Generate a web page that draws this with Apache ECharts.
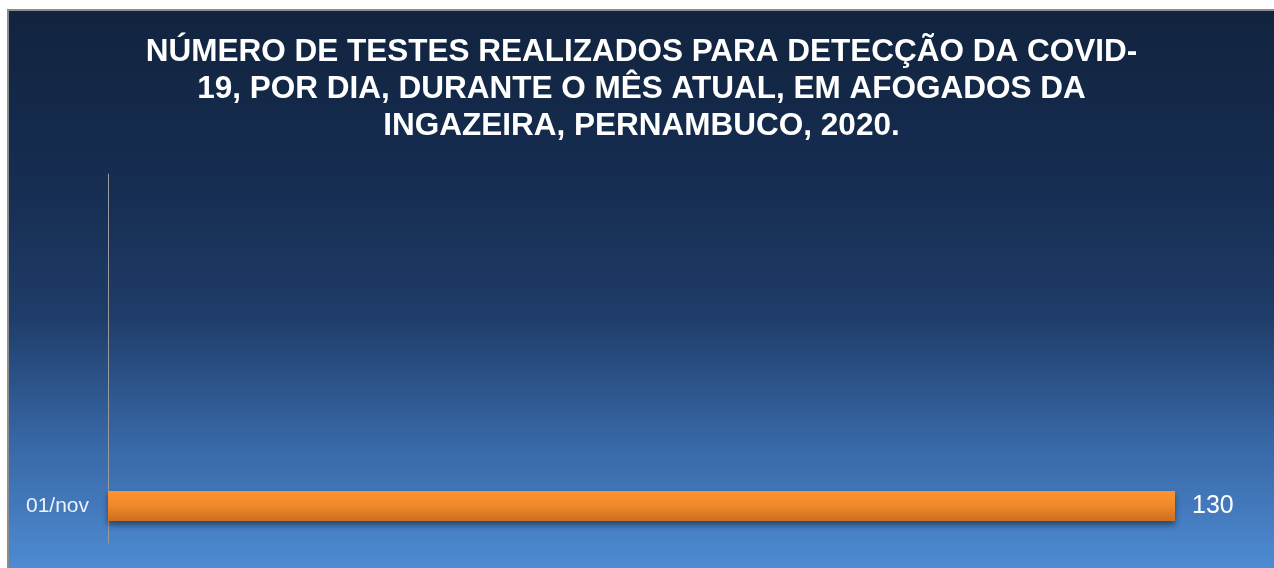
<!DOCTYPE html>
<html>
<head>
<meta charset="utf-8">
<script src="https://cdn.jsdelivr.net/npm/echarts@6/dist/echarts.min.js"></script>
<style>
  html, body { margin: 0; padding: 0; background: #ffffff; width: 1274px; height: 568px; overflow: hidden; }
  #frame {
    position: absolute; left: 7px; top: 9px;
    border-left: 2px solid #8c8c8c; border-top: 2px solid #8c8c8c;
  }
  #chart { width: 1265px; height: 557px; }
</style>
</head>
<body>
<div id="frame"><div id="chart"></div></div>
<script>
const titleLines = [
  'NÚMERO DE TESTES REALIZADOS PARA DETECÇÃO DA COVID-',
  '19, POR DIA, DURANTE O MÊS ATUAL, EM AFOGADOS DA',
  'INGAZEIRA, PERNAMBUCO, 2020.'
];
const categories = ['01/nov'];
const testes = [130];

const chart = echarts.init(document.getElementById('chart'));

const option = {
  backgroundColor: new echarts.graphic.LinearGradient(0, 0, 0, 1, [
    { offset: 0, color: '#11233e' },
    { offset: 0.35, color: '#172f55' },
    { offset: 0.55, color: '#1f3d69' },
    { offset: 0.75, color: '#3563a0' },
    { offset: 1, color: '#4e8bd2' }
  ]),
  title: {
    text: titleLines.join('\n'),
    left: 'center',
    top: 18,
    textStyle: {
      color: '#ffffff',
      fontFamily: 'Liberation Sans, Arial, sans-serif',
      fontWeight: 'bold',
      fontSize: 31.5,
      lineHeight: 37
    }
  },
  grid: { left: 99, right: 99, top: 163, bottom: 25 },
  xAxis: {
    type: 'value',
    min: 0,
    max: 130,
    show: false
  },
  yAxis: {
    type: 'category',
    data: categories,
    min: 0,
    max: 4,
    axisLine: { show: true, lineStyle: { color: '#9a9a9a', width: 1 } },
    axisTick: { show: false },
    splitLine: { show: false },
    axisLabel: {
      color: '#eef3fa',
      fontFamily: 'Liberation Sans, Arial, sans-serif',
      fontSize: 21,
      margin: 19
    }
  },
  series: [
    {
      type: 'bar',
      data: testes,
      barWidth: 30,
      itemStyle: {
        color: new echarts.graphic.LinearGradient(0, 0, 0, 1, [
          { offset: 0, color: '#ff922e' },
          { offset: 0.45, color: '#f18a2a' },
          { offset: 1, color: '#cc6e22' }
        ]),
        shadowColor: 'rgba(0, 0, 0, 0.45)',
        shadowBlur: 6,
        shadowOffsetY: 4
      },
      label: {
        show: true,
        position: 'right',
        distance: 17,
        color: '#ffffff',
        fontFamily: 'Liberation Sans, Arial, sans-serif',
        fontSize: 25
      }
    }
  ]
};

chart.setOption(option);
</script>
</body>
</html>
